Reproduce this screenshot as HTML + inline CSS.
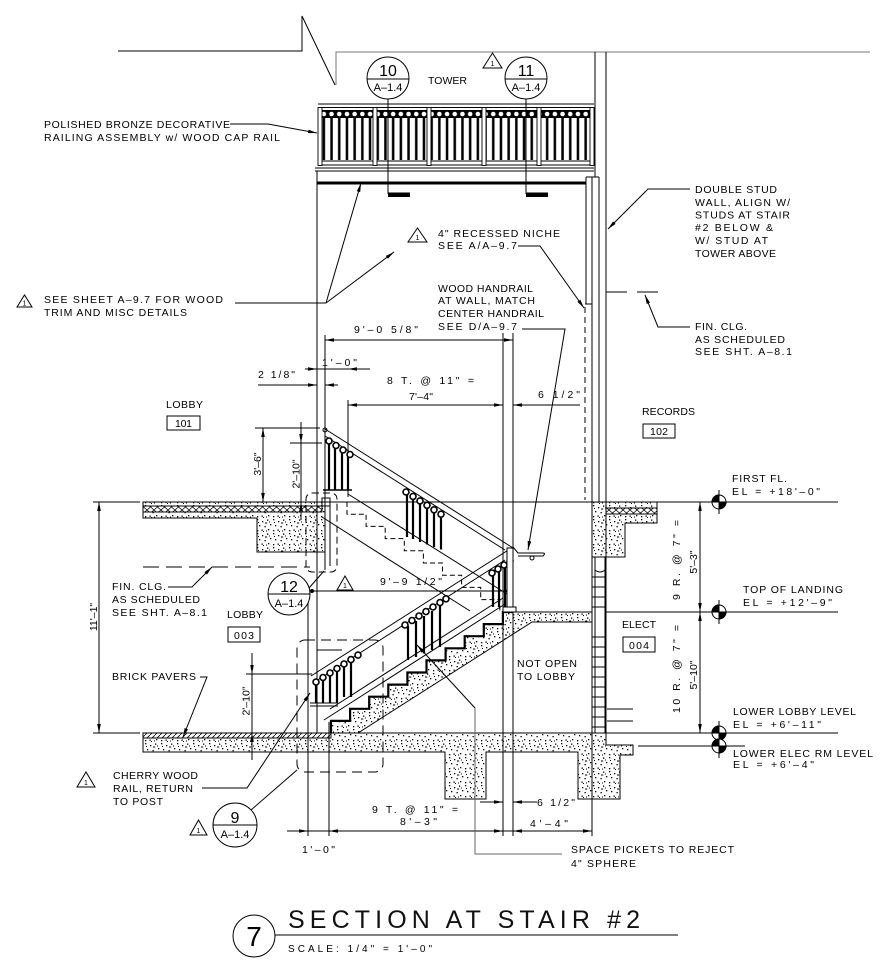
<!DOCTYPE html>
<html><head><meta charset="utf-8">
<style>
html,body{margin:0;padding:0;background:#fff;width:891px;height:963px;overflow:hidden}
svg{display:block;font-family:"Liberation Sans",sans-serif;font-size:10.5px}
text{fill:#000}
</style></head><body>
<svg width="891" height="963" viewBox="0 0 891 963" xmlns="http://www.w3.org/2000/svg">
<defs>
<pattern id="c" width="16" height="14" patternUnits="userSpaceOnUse">
<g fill="#000">
<rect x="1" y="1" width="1.3" height="1.3"/><rect x="6" y="3" width="1.3" height="1.3"/>
<rect x="11" y="1.5" width="1.3" height="1.3"/><rect x="14" y="6" width="1.3" height="1.3"/>
<rect x="3" y="7" width="1.3" height="1.3"/><rect x="8.5" y="8" width="1.3" height="1.3"/>
<rect x="12" y="11" width="1.3" height="1.3"/><rect x="1" y="12" width="1.3" height="1.3"/>
<rect x="5.5" y="11.5" width="1.3" height="1.3"/><rect x="9" y="4.5" width="2.2" height="1"/>
<rect x="2" y="4" width="1" height="1"/><rect x="13" y="3.5" width="1" height="1"/>
<rect x="7" y="13" width="1" height="1"/><rect x="10" y="12.5" width="1" height="1"/>
</g></pattern>
<pattern id="x" width="7" height="6" patternUnits="userSpaceOnUse"><path d="M0,0L7,6M0,6L7,0" stroke="#000" stroke-width="0.7" fill="none"/></pattern>
<pattern id="h" width="5" height="5" patternUnits="userSpaceOnUse"><path d="M0,5L5,0" stroke="#000" stroke-width="0.8" fill="none"/></pattern>
<pattern id="bal" x="320" y="118" width="7.7" height="42" patternUnits="userSpaceOnUse"><rect x="2.6" y="0" width="2.5" height="42" fill="#000"/></pattern>
<pattern id="ring" x="320" y="110" width="7.7" height="8" patternUnits="userSpaceOnUse"><rect width="7.7" height="8" fill="#000"/><circle cx="3.85" cy="4" r="2.3" fill="#fff"/></pattern>
<marker id="a" viewBox="0 0 10 4" refX="10" refY="2" markerWidth="9" markerHeight="3.6" orient="auto-start-reverse" markerUnits="userSpaceOnUse"><path d="M0,0L10,2L0,4z" fill="#000"/></marker>
</defs>
<rect width="891" height="963" fill="#fff"/>

<!-- concrete fills -->
<g stroke="#000" stroke-width="1">
<path d="M143,502 H325 V552 H257 V518 H143 Z" fill="url(#c)"/>
<path d="M592,502 H657 V523 H625 V557 H592 Z" fill="url(#c)"/>
<path d="M143,733 H606 V745 H633 V755 H620 V799 H578 V752 H486 V799 H445 V752 H143 Z" fill="url(#c)"/>
<path d="M331,733 V720.9 H350.1 V708.8 H369.2 V696.7 H388.3 V684.6 H407.4 V672.5 H426.5 V660.4 H445.6 V648.3 H464.7 V636.2 H483.8 V624.1 H502.9 V612 H605 V632 H595 V622 H532 L358,733 Z" fill="url(#c)"/>
</g>
<g stroke="#000" stroke-width="0.8">
<rect x="143" y="506" width="179" height="6" fill="#fff"/>
<rect x="143" y="506" width="179" height="6" fill="url(#x)"/>
<rect x="606" y="508" width="51" height="6" fill="#fff"/>
<rect x="606" y="508" width="51" height="6" fill="url(#x)"/>
<rect x="143" y="733" width="188" height="5" fill="#fff"/>
<rect x="143" y="733" width="188" height="5" fill="url(#h)"/>
</g>

<g fill="none" stroke="#000" stroke-width="1">
<!-- top outline -->
<polyline points="118,51 302,51 302,16 335,85"/>
<polyline points="336,85 336,52 870,52" stroke="#777"/>

<!-- right walls -->
<line x1="595" y1="52" x2="595" y2="177"/>
<line x1="606" y1="52" x2="606" y2="735"/>
<line x1="599" y1="177" x2="599" y2="502"/>
<line x1="592" y1="177" x2="592" y2="735"/>
<line x1="586" y1="177" x2="586" y2="304"/>
<line x1="586" y1="177" x2="599" y2="177"/>
<line x1="585" y1="304" x2="592" y2="304"/>
<line x1="585" y1="307" x2="585" y2="500" stroke-dasharray="6,4"/>
<!-- CMU -->
<rect x="592" y="557" width="13" height="176" fill="#fff"/>
<line x1="595" y1="557" x2="595" y2="733"/>
<path d="M595,558 V570 Q600,574 605,570 V558"/>
<path d="M592,577H605M592,587H605M592,597H605M592,607H605M592,637H605M592,647H605M592,657H605M592,667H605M592,677H605M592,687H605M592,697H605M592,707H605M592,717H605M592,727H605"/>
<path d="M607,709H633M607,721H633"/>

<!-- top railing -->
<line x1="318" y1="104" x2="594" y2="104"/>
<line x1="318" y1="107.5" x2="594" y2="107.5"/>
<rect x="320" y="110" width="272" height="8" fill="url(#ring)" stroke="none"/>
<rect x="320" y="118" width="272" height="42" fill="url(#bal)" stroke="none"/>
<line x1="318" y1="161" x2="594" y2="161"/>
<line x1="318" y1="165" x2="594" y2="165"/>
<g fill="#fff" stroke-width="0.9">
<rect x="318" y="107.5" width="4" height="58"/>
<rect x="373" y="107.5" width="4" height="58"/>
<rect x="427" y="107.5" width="4" height="58"/>
<rect x="482" y="107.5" width="4" height="58"/>
<rect x="537" y="107.5" width="4" height="58"/>
<rect x="590" y="107.5" width="4" height="58"/>
</g>
<line x1="315" y1="168" x2="594" y2="168"/>
<line x1="315" y1="171" x2="594" y2="171"/>
<line x1="317" y1="171" x2="317" y2="183"/>
<line x1="317" y1="183" x2="586" y2="183" stroke-width="3"/>

<!-- left wall -->
<line x1="317" y1="183" x2="317" y2="733"/>
<line x1="325" y1="335" x2="325" y2="502"/>
<line x1="325" y1="502" x2="325" y2="570"/>
<line x1="330" y1="502" x2="330" y2="566"/>
<rect x="322" y="498" width="8" height="8"/>
<circle cx="325" cy="430" r="2"/>

<!-- floor lines -->
<line x1="93" y1="502" x2="140" y2="502"/>
<line x1="325" y1="502" x2="592" y2="502"/>
<line x1="657" y1="502" x2="838" y2="502"/>
<line x1="605" y1="612" x2="838" y2="612"/>
<line x1="93" y1="733" x2="140" y2="733"/>
<line x1="606" y1="733" x2="838" y2="733"/>
<line x1="638" y1="746" x2="745" y2="746"/>
<line x1="143" y1="567" x2="310" y2="567" stroke-dasharray="16,7"/>
<line x1="606" y1="292" x2="627" y2="292"/>
<line x1="637" y1="292" x2="658" y2="292"/>

<!-- ext / dim lines -->
<line x1="503" y1="333" x2="503" y2="836"/>
<line x1="513" y1="333" x2="513" y2="836"/>
<line x1="348" y1="400" x2="348" y2="497"/>
<line x1="308" y1="590" x2="308" y2="836"/>
<line x1="329" y1="722" x2="329" y2="836"/>
<line x1="592" y1="735" x2="592" y2="836"/>
<line x1="317" y1="650" x2="342" y2="650"/>

<line x1="325" y1="340" x2="513" y2="340" marker-start="url(#a)" marker-end="url(#a)"/>
<line x1="305" y1="369" x2="317" y2="369" marker-end="url(#a)"/>
<line x1="317" y1="369" x2="348" y2="369"/>
<line x1="370" y1="369" x2="348" y2="369" marker-end="url(#a)"/>
<line x1="258" y1="385" x2="317" y2="385" marker-end="url(#a)"/>
<line x1="338" y1="385" x2="325" y2="385" marker-end="url(#a)"/>
<line x1="348" y1="405" x2="503" y2="405" marker-start="url(#a)" marker-end="url(#a)"/>
<line x1="580" y1="405" x2="513" y2="405" marker-end="url(#a)"/>
<line x1="255" y1="428" x2="320" y2="428"/>
<line x1="263" y1="428" x2="263" y2="502" marker-start="url(#a)" marker-end="url(#a)"/>
<line x1="290" y1="443" x2="322" y2="443"/>
<line x1="301" y1="422" x2="301" y2="443" marker-end="url(#a)"/>
<line x1="301" y1="443" x2="301" y2="502"/>
<line x1="301" y1="520" x2="301" y2="502" marker-end="url(#a)"/>
<line x1="99" y1="502" x2="99" y2="733" marker-start="url(#a)" marker-end="url(#a)"/>
<line x1="246" y1="674" x2="312" y2="674"/>
<line x1="252" y1="653" x2="252" y2="674" marker-end="url(#a)"/>
<line x1="252" y1="674" x2="252" y2="733"/>
<line x1="252" y1="760" x2="252" y2="733" marker-end="url(#a)"/>
<line x1="700" y1="502" x2="700" y2="612" marker-start="url(#a)" marker-end="url(#a)"/>
<line x1="700" y1="612" x2="700" y2="733" marker-start="url(#a)" marker-end="url(#a)"/>
<line x1="312" y1="591" x2="513" y2="591" marker-end="url(#a)"/>
<circle cx="312" cy="591" r="1.5" fill="#000"/>
<line x1="480" y1="802" x2="503" y2="802" marker-end="url(#a)"/>
<line x1="537" y1="802" x2="513" y2="802" marker-end="url(#a)"/>
<line x1="287" y1="831" x2="308" y2="831" marker-end="url(#a)"/>
<line x1="308" y1="831" x2="329" y2="831"/>
<line x1="329" y1="831" x2="503" y2="831" marker-start="url(#a)" marker-end="url(#a)"/>
<line x1="503" y1="831" x2="513" y2="831"/>
<line x1="513" y1="831" x2="592" y2="831" marker-start="url(#a)" marker-end="url(#a)"/>

<!-- stairs -->
<path d="M331,733 V720.9 H350.1 V708.8 H369.2 V696.7 H388.3 V684.6 H407.4 V672.5 H426.5 V660.4 H445.6 V648.3 H464.7 V636.2 H483.8 V624.1 H502.9 V612 H513" stroke-width="2.2"/>
<path d="M347,502 V514.2 H366.1 V526.4 H385.2 V538.6 H404.3 V550.8 H423.4 V563 H442.5 V575.2 H461.6 V587.4 H480.7 V599.6 H499.8 V611" stroke-dasharray="5,3"/>
<line x1="325" y1="429" x2="513" y2="548"/>
<line x1="325" y1="436" x2="505" y2="550"/>
<line x1="348" y1="494" x2="507" y2="594"/>
<line x1="322" y1="517" x2="470" y2="611"/>
<line x1="311" y1="676" x2="513" y2="547"/>
<line x1="313" y1="683" x2="505" y2="560"/>
<line x1="330" y1="709" x2="503" y2="598"/>
<line x1="324" y1="720" x2="505" y2="604"/>

<!-- rail groups -->
<g stroke-width="1.6" fill="#fff">
<circle cx="329" cy="441" r="3"/><circle cx="336" cy="445.5" r="3"/><circle cx="343" cy="450" r="3"/><circle cx="350" cy="454.5" r="3"/>
<circle cx="406" cy="492" r="3"/><circle cx="413" cy="496.4" r="3"/><circle cx="420" cy="500.9" r="3"/><circle cx="427" cy="505.3" r="3"/><circle cx="434" cy="509.8" r="3"/><circle cx="441" cy="514.2" r="3"/>
<circle cx="316" cy="682" r="3"/><circle cx="323" cy="677.5" r="3"/><circle cx="330" cy="673" r="3"/><circle cx="337" cy="668.5" r="3"/><circle cx="344" cy="664" r="3"/><circle cx="351" cy="659.6" r="3"/><circle cx="358" cy="655.1" r="3"/>
<circle cx="405" cy="625" r="3"/><circle cx="412" cy="620.5" r="3"/><circle cx="419" cy="616" r="3"/><circle cx="426" cy="611.6" r="3"/><circle cx="433" cy="607" r="3"/><circle cx="440" cy="602.6" r="3"/><circle cx="446" cy="598.8" r="3"/>
<circle cx="492" cy="573" r="3"/><circle cx="498" cy="569" r="3"/><circle cx="504" cy="565" r="3"/><circle cx="510" cy="561" r="3"/>
</g>
<g stroke-width="2.2">
<path d="M329,444V490M335,448V490M342,453V490M348,457V490"/>
<path d="M407,495V537M413,499V539M420,504V542M427,508V544.5M434,513V547M441,517V549.5"/>
<path d="M316,685V703M323,680.5V703M330,676V703M337,671.5V703M344,667V697M351,662.6V697"/>
<path d="M408,626V660M416,621V657M424,616V653.5M432,611V650M440,606V647"/>
<path d="M493,576V607M499,572V607M505,568V607"/>
</g>
<line x1="323" y1="490" x2="352" y2="490" stroke-width="1.4"/>
<path d="M310,703H338M310,706H338"/>
<rect x="507" y="548" width="6" height="59" fill="#fff"/>
<rect x="503" y="607" width="13" height="5" fill="#fff"/>
<path d="M513,547 L518,553 H543 Q546,553 543,556 H518"/>
<circle cx="532" cy="558" r="2"/>

<!-- dashed detail bubbles -->
<rect x="306" y="493" width="31" height="79" rx="6" stroke-dasharray="7,4"/>
<rect x="297" y="640" width="86" height="132" rx="8" stroke-dasharray="10,6"/>

<!-- leaders -->
<polyline points="230,124 268,124 317,133" marker-end="url(#a)"/>
<line x1="235" y1="303" x2="326" y2="303"/>
<line x1="326" y1="303" x2="394" y2="252" marker-end="url(#a)"/>
<line x1="326" y1="303" x2="361" y2="183" marker-end="url(#a)"/>
<polyline points="690,189 648,189 608,229" marker-end="url(#a)"/>
<polyline points="690,327 658,327 645,295" marker-end="url(#a)"/>
<polyline points="518,246 540,246 584,308" marker-end="url(#a)"/>
<polyline points="522,329 565,329 528,550" marker-end="url(#a)"/>
<polyline points="168,587 192,587 212,567" marker-end="url(#a)"/>
<polyline points="200,677 207,677 183,737" marker-end="url(#a)"/>
<polyline points="202,788 247,788 310,693" marker-end="url(#a)"/>
<line x1="251" y1="810" x2="297" y2="770"/>
<line x1="309" y1="588" x2="324" y2="571"/>
<polyline points="475,708 417,645" marker-end="url(#a)"/>
<polyline points="475,708 475,854 562,854" stroke="#666"/>

<!-- bubbles -->
<circle cx="388" cy="78" r="21" fill="#fff"/>
<line x1="367" y1="79" x2="409" y2="79"/>
<line x1="388" y1="99" x2="388" y2="194"/>
<circle cx="526" cy="78" r="21" fill="#fff"/>
<line x1="505" y1="79" x2="547" y2="79"/>
<line x1="526" y1="99" x2="526" y2="194"/>
<circle cx="289" cy="594" r="21" fill="#fff"/>
<line x1="268" y1="594" x2="310" y2="594"/>
<circle cx="235" cy="825" r="22" fill="#fff"/>
<line x1="213" y1="825" x2="257" y2="825"/>
<circle cx="254" cy="936" r="21"/>
<line x1="275" y1="935" x2="678" y2="935"/>

<!-- triangles -->
<path d="M483,68 L492.5,53 L502,68 Z"/>
<path d="M17,307 L24.5,295 L32,307 Z"/>
<path d="M408,242 L417.5,228 L427,242 Z"/>
<path d="M337,590 L345,576 L353,590 Z"/>
<path d="M77,787 L86,772 L95,787 Z"/>
<path d="M190,835 L198.5,820 L207,835 Z"/>

<!-- room tags -->
<rect x="167" y="416" width="33" height="14"/>
<rect x="643" y="424" width="32" height="14"/>
<rect x="228" y="627" width="32" height="15"/>
<rect x="623" y="637" width="32" height="15"/>
</g>
<rect x="388" y="192.5" width="22" height="4.5" fill="#000"/>
<rect x="526" y="192.5" width="22" height="4.5" fill="#000"/>

<!-- elevation markers -->
<g stroke="#000" stroke-width="1">
<g transform="translate(719,502)"><circle r="7" fill="#fff"/><path d="M0,0 V-7 A7,7 0 0 0 -7,0 Z M0,0 V7 A7,7 0 0 0 7,0 Z" fill="#000"/><line x1="0" y1="-12" x2="0" y2="12"/></g>
<g transform="translate(719,612)"><circle r="7" fill="#fff"/><path d="M0,0 V-7 A7,7 0 0 0 -7,0 Z M0,0 V7 A7,7 0 0 0 7,0 Z" fill="#000"/><line x1="0" y1="-12" x2="0" y2="12"/></g>
<g transform="translate(719,733)"><circle r="7" fill="#fff"/><path d="M0,0 V-7 A7,7 0 0 0 -7,0 Z M0,0 V7 A7,7 0 0 0 7,0 Z" fill="#000"/><line x1="0" y1="-12" x2="0" y2="12"/></g>
<g transform="translate(719,746)"><circle r="7" fill="#fff"/><path d="M0,0 V-7 A7,7 0 0 0 -7,0 Z M0,0 V7 A7,7 0 0 0 7,0 Z" fill="#000"/><line x1="0" y1="-12" x2="0" y2="12"/></g>
</g>

<!-- text -->
<g>
<text x="492.5" y="66" font-size="7" text-anchor="middle">1</text>
<text x="24.5" y="305.5" font-size="7" text-anchor="middle">1</text>
<text x="417.5" y="240" font-size="7" text-anchor="middle">1</text>
<text x="345" y="588" font-size="7" text-anchor="middle">1</text>
<text x="86" y="785" font-size="7" text-anchor="middle">1</text>
<text x="198.5" y="833" font-size="7" text-anchor="middle">1</text>

<text x="388" y="76" font-size="16" text-anchor="middle">10</text>
<text x="388" y="91" font-size="11" text-anchor="middle">A–1.4</text>
<text x="526" y="76" font-size="16" text-anchor="middle">11</text>
<text x="526" y="91" font-size="11" text-anchor="middle">A–1.4</text>
<text x="289" y="592" font-size="16" text-anchor="middle">12</text>
<text x="289" y="607" font-size="11" text-anchor="middle">A–1.4</text>
<text x="235" y="823" font-size="16" text-anchor="middle">9</text>
<text x="235" y="838" font-size="11" text-anchor="middle">A–1.4</text>
<text x="254" y="946" font-size="28" text-anchor="middle">7</text>

<text x="44" y="128" textLength="186">POLISHED BRONZE DECORATIVE</text>
<text x="44" y="141" textLength="236">RAILING ASSEMBLY w/ WOOD CAP RAIL</text>
<text x="428" y="84" textLength="39">TOWER</text>
<text x="44" y="303" textLength="179">SEE SHEET A–9.7 FOR WOOD</text>
<text x="44" y="316" textLength="143">TRIM AND MISC DETAILS</text>
<text x="695" y="193" textLength="82">DOUBLE STUD</text>
<text x="695" y="206" textLength="95">WALL, ALIGN W/</text>
<text x="695" y="218.5" textLength="95">STUDS AT STAIR</text>
<text x="695" y="231" textLength="78">#2 BELOW &amp;</text>
<text x="695" y="244" textLength="73">W/ STUD AT</text>
<text x="695" y="257" textLength="81">TOWER ABOVE</text>
<text x="695" y="330" textLength="52">FIN. CLG.</text>
<text x="695" y="343" textLength="90">AS SCHEDULED</text>
<text x="695" y="355" textLength="97">SEE SHT. A–8.1</text>
<text x="438" y="237" textLength="122">4" RECESSED NICHE</text>
<text x="438" y="249" textLength="79">SEE A/A–9.7</text>
<text x="438" y="292" textLength="95">WOOD HANDRAIL</text>
<text x="438" y="304" textLength="97">AT WALL, MATCH</text>
<text x="438" y="317" textLength="106">CENTER HANDRAIL</text>
<text x="438" y="330" textLength="79">SEE D/A–9.7</text>
<text x="354" y="333" textLength="64">9'–0 5/8"</text>
<text x="322" y="366" textLength="35">1'–0"</text>
<text x="258" y="378" textLength="37">2 1/8"</text>
<text x="387" y="384" textLength="87">8 T. @ 11" =</text>
<text x="409" y="400" textLength="24">7'–4"</text>
<text x="538" y="398" textLength="42">6 1/2"</text>
<text x="166" y="408" textLength="37">LOBBY</text>
<text x="175" y="427" textLength="17">101</text>
<text x="642" y="415" textLength="53">RECORDS</text>
<text x="650" y="435" textLength="18">102</text>
<text transform="translate(261,464) rotate(-90)" text-anchor="middle">3'–6"</text>
<text transform="translate(299.5,474) rotate(-90)" text-anchor="middle">2'–10"</text>
<text transform="translate(249.5,701) rotate(-90)" text-anchor="middle">2'–10"</text>
<text transform="translate(97,617) rotate(-90)" text-anchor="middle">11'–1"</text>
<text transform="translate(680,560) rotate(-90)" text-anchor="middle" textLength="80">9 R. @ 7" =</text>
<text transform="translate(697,562) rotate(-90)" text-anchor="middle">5'–3"</text>
<text transform="translate(680,669) rotate(-90)" text-anchor="middle" textLength="88">10 R. @ 7" =</text>
<text transform="translate(697,675) rotate(-90)" text-anchor="middle">5'–10"</text>
<text x="732" y="482" textLength="55">FIRST FL.</text>
<text x="732" y="495" textLength="88">EL = +18'–0"</text>
<text x="743" y="593" textLength="100">TOP OF LANDING</text>
<text x="743" y="606" textLength="89">EL = +12'–9"</text>
<text x="733" y="715" textLength="123">LOWER LOBBY LEVEL</text>
<text x="733" y="728" textLength="88">EL = +6'–11"</text>
<text x="733" y="757" textLength="140">LOWER ELEC RM LEVEL</text>
<text x="733" y="768" textLength="81">EL = +6'–4"</text>
<text x="622" y="628" textLength="34">ELECT</text>
<text x="629" y="649" textLength="20">004</text>
<text x="112" y="590" textLength="54">FIN. CLG.</text>
<text x="112" y="603" textLength="88">AS SCHEDULED</text>
<text x="112" y="616" textLength="95">SEE SHT. A–8.1</text>
<text x="380" y="585" textLength="62">9'–9 1/2"</text>
<text x="227" y="618" textLength="36">LOBBY</text>
<text x="234" y="639" textLength="20">003</text>
<text x="112" y="680" textLength="84">BRICK PAVERS</text>
<text x="517" y="667" textLength="60">NOT OPEN</text>
<text x="517" y="680" textLength="58">TO LOBBY</text>
<text x="113" y="779" textLength="85">CHERRY WOOD</text>
<text x="113" y="792" textLength="80">RAIL, RETURN</text>
<text x="113" y="805" textLength="50">TO POST</text>
<text x="302" y="853" textLength="33">1'–0"</text>
<text x="372" y="813" textLength="86">9 T. @ 11" =</text>
<text x="400" y="825" textLength="37">8'–3"</text>
<text x="537" y="806" textLength="38">6 1/2"</text>
<text x="530" y="827" textLength="38">4'–4"</text>
<text x="571" y="853" textLength="163">SPACE PICKETS TO REJECT</text>
<text x="571" y="867" textLength="65">4" SPHERE</text>
<text x="288" y="928" font-size="25" textLength="352" style="fill:#111">SECTION AT STAIR #2</text>
<text x="288" y="952" font-size="10" textLength="144">SCALE: 1/4" = 1'–0"</text>
</g>
</svg>
</body></html>
